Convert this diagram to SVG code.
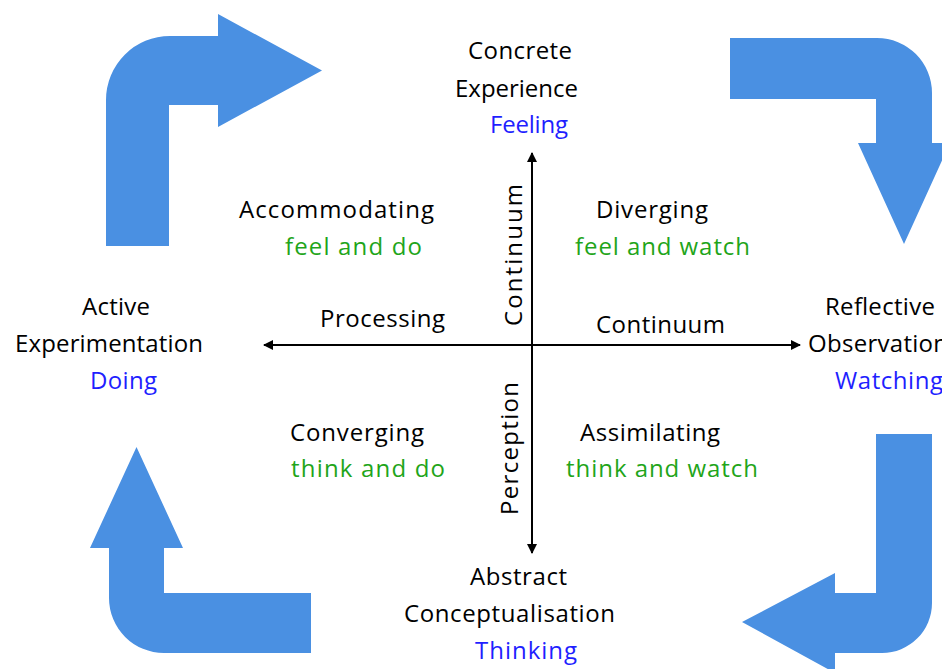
<svg xmlns="http://www.w3.org/2000/svg" width="942" height="669" viewBox="0 0 942 669">
  <style>
    text { font-family: "Open Sans", "Noto Sans", "Liberation Sans", sans-serif; font-size: 24px; fill: #000; }
    .mode { fill: #1f1fff; }
    .style { fill: #1fa51a; }
    .cycle { fill: #4a90e2; }
    .axis { stroke: #000; stroke-width: 2; fill: none; }
  </style>
  <defs>
    <marker id="tip" viewBox="0 0 10 10" refX="9" refY="5" markerWidth="5" markerHeight="5" markerUnits="strokeWidth" orient="auto-start-reverse">
      <path d="M0,0 L10,5 L0,10 Z" fill="#000"/>
    </marker>
  </defs>

  <!-- cycle arrows -->
  <g id="cycle-arrows">
    <path class="cycle" d="M106,246 L106,100 A64,64 0 0 1 170,36 L218,36 L218,14 L322,70.5 L218,127 L218,105 L169,105 L169,246 Z"/>
    <path class="cycle" d="M730,38 L877,38 A55,55 0 0 1 932,93 L932,143 L950,143 L904,244 L858,143 L876,143 L876,99 L730,99 Z"/>
    <path class="cycle" d="M876,434 L932,434 L932,603 A50,50 0 0 1 882,653 L835,653 L835,673 L742,622 L835,573 L835,593 L876,593 Z"/>
    <path class="cycle" d="M311,593 L311,653 L164,653 A55,55 0 0 1 109,598 L109,548 L90,548 L136.5,447 L183,548 L164,548 L164,593 Z"/>
  </g>

  <!-- axes -->
  <g id="connectors">
    <line class="axis" x1="264" y1="345" x2="800" y2="345" marker-start="url(#tip)" marker-end="url(#tip)"/>
    <line class="axis" x1="532" y1="153" x2="532" y2="553" marker-start="url(#tip)" marker-end="url(#tip)"/>
  </g>

  <g id="concrete-experience">
    <text x="468" y="59" textLength="104">Concrete</text>
    <text x="455" y="97" textLength="123">Experience</text>
    <text class="mode" x="490" y="133" textLength="78">Feeling</text>
  </g>

  <g id="active-experimentation">
    <text x="82" y="315" textLength="68">Active</text>
    <text x="15" y="352" textLength="188">Experimentation</text>
    <text class="mode" x="90" y="389" textLength="67">Doing</text>
  </g>

  <g id="reflective-observation">
    <text x="825" y="315" textLength="110">Reflective</text>
    <text x="808" y="352" textLength="140">Observation</text>
    <text class="mode" x="835" y="389" textLength="108">Watching</text>
  </g>

  <g id="abstract-conceptualisation">
    <text x="470" y="585" textLength="97">Abstract</text>
    <text x="404" y="622" textLength="211">Conceptualisation</text>
    <text class="mode" x="475" y="659" textLength="102">Thinking</text>
  </g>

  <g id="accommodating">
    <text x="239" y="218" textLength="195">Accommodating</text>
    <text class="style" x="285" y="255" textLength="137">feel and do</text>
  </g>

  <g id="diverging">
    <text x="596" y="218" textLength="112">Diverging</text>
    <text class="style" x="575" y="255" textLength="175">feel and watch</text>
  </g>

  <g id="converging">
    <text x="290" y="441" textLength="134">Converging</text>
    <text class="style" x="291" y="477" textLength="154">think and do</text>
  </g>

  <g id="assimilating">
    <text x="580" y="441" textLength="140">Assimilating</text>
    <text class="style" x="566" y="477" textLength="192">think and watch</text>
  </g>

  <g id="axis-labels">
    <text x="320" y="327" textLength="125">Processing</text>
    <text x="596" y="333" textLength="129">Continuum</text>
    <text transform="translate(522,326) rotate(-90)" textLength="142">Continuum</text>
    <text transform="translate(518,515) rotate(-90)" textLength="133">Perception</text>
  </g>
</svg>
